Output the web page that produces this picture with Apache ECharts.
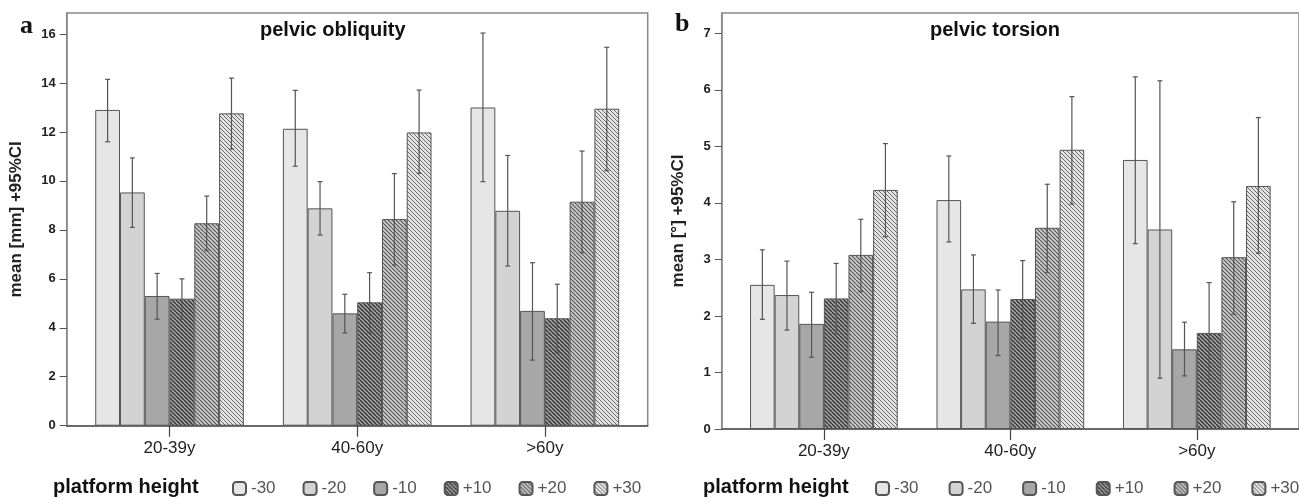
<!DOCTYPE html>
<html>
<head>
<meta charset="utf-8">
<script src="https://cdn.jsdelivr.net/npm/echarts@6/dist/echarts.min.js"></script>
<style>
  html, body { margin: 0; padding: 0; background: #fff; }
  #chart { width: 1299px; height: 498px; }
</style>
</head>
<body>
<div id="chart"></div>
<script>
const categories = ["20-39y", "40-60y", ">60y"];
const heights = ["-30", "-20", "-10", "+10", "+20", "+30"];
const obliquityTicks = [0, 2, 4, 6, 8, 10, 12, 14, 16];
const torsionTicks = [0, 1, 2, 3, 4, 5, 6, 7];

// one row per platform height, one value per age group
const obliquityMean = [
  [12.9, 12.13, 13.0],
  [9.53, 8.88, 8.78],
  [5.3, 4.59, 4.69],
  [5.19, 5.04, 4.39],
  [8.27, 8.44, 9.15],
  [12.76, 11.98, 12.95]
];
const obliquityLow = [
  [11.6, 10.6, 9.97],
  [8.1, 7.79, 6.52],
  [4.35, 3.79, 2.68],
  [4.35, 3.79, 2.98],
  [7.15, 6.56, 7.07],
  [11.3, 10.31, 10.42]
];
const obliquityHigh = [
  [14.15, 13.7, 16.04],
  [10.94, 9.97, 11.04],
  [6.22, 5.37, 6.66],
  [6.0, 6.25, 5.78],
  [9.38, 10.3, 11.22],
  [14.2, 13.71, 15.46]
];

const torsionMean = [
  [2.55, 4.05, 4.76],
  [2.37, 2.47, 3.53],
  [1.86, 1.9, 1.41],
  [2.31, 2.3, 1.7],
  [3.08, 3.56, 3.04],
  [4.23, 4.94, 4.3]
];
const torsionLow = [
  [1.94, 3.31, 3.28],
  [1.75, 1.87, 0.9],
  [1.27, 1.3, 0.94],
  [1.68, 1.6, 0.82],
  [2.43, 2.77, 2.03],
  [3.4, 3.98, 3.11]
];
const torsionHigh = [
  [3.17, 4.83, 6.23],
  [2.97, 3.08, 6.16],
  [2.42, 2.46, 1.89],
  [2.93, 2.98, 2.59],
  [3.71, 4.33, 4.02],
  [5.05, 5.88, 5.51]
];

const FONT = "'Liberation Sans', Arial, sans-serif";
const BAR_FRAC = 0.132;

function hatch(bg, fg, lw) {
  const c = document.createElement("canvas");
  c.width = 4;
  c.height = 4;
  const g = c.getContext("2d");
  g.fillStyle = bg;
  g.fillRect(0, 0, 4, 4);
  g.strokeStyle = fg;
  g.lineWidth = lw;
  g.beginPath();
  for (const k of [-4, 0, 4]) {
    g.moveTo(k, 0);
    g.lineTo(k + 4, 4);
  }
  g.stroke();
  return { image: c, repeat: "repeat" };
}

const fills = [
  "#e6e6e6",
  "#d3d3d3",
  "#a7a7a7",
  hatch("#a4a4a4", "#333", 1.3),
  hatch("#cacaca", "#555", 1.1),
  hatch("#e4e4e4", "#6a6a6a", 1)
];

function errRender(k) {
  return function (params, api) {
    const x = api.value(0);
    const lo = api.coord([x, api.value(1)]);
    const hi = api.coord([x, api.value(2)]);
    const w = api.size([1, 0])[0] * BAR_FRAC;
    const cx = lo[0] + (k - 2.5) * w;
    const cap = 2.5;
    const st = { stroke: "#555", lineWidth: 1.2 };
    return {
      type: "group",
      children: [
        { type: "line", shape: { x1: cx, y1: lo[1], x2: cx, y2: hi[1] }, style: st },
        { type: "line", shape: { x1: cx - cap, y1: hi[1], x2: cx + cap, y2: hi[1] }, style: st },
        { type: "line", shape: { x1: cx - cap, y1: lo[1], x2: cx + cap, y2: lo[1] }, style: st }
      ]
    };
  };
}

function makeSeries(g, mean, low, high) {
  const out = [];
  heights.forEach((h, k) => {
    out.push({
      type: "bar",
      name: h,
      xAxisIndex: g,
      yAxisIndex: g,
      barWidth: (BAR_FRAC * 100) + "%",
      barGap: "0%",
      data: mean[k].map((v, i) => [i, v]),
      itemStyle: { color: fills[k], borderColor: "#555", borderWidth: 1 },
      emphasis: { disabled: true }
    });
  });
  heights.forEach((h, k) => {
    out.push({
      type: "custom",
      xAxisIndex: g,
      yAxisIndex: g,
      z: 5,
      renderItem: errRender(k),
      data: low[k].map((v, i) => [i, v, high[k][i]])
    });
  });
  return out;
}

function xAxis(g) {
  return {
    type: "value",
    gridIndex: g,
    min: -0.548,
    max: 2.548,
    axisLine: { show: true, onZero: false, lineStyle: { color: "#555", width: 1.5 } },
    axisTick: { show: true, length: 11, customValues: [0, 1, 2], lineStyle: { color: "#444", width: 1.2 } },
    axisLabel: {
      customValues: [0, 1, 2],
      formatter: (v) => categories[Math.round(v)],
      margin: 14,
      color: "#222",
      fontSize: 17,
      fontFamily: FONT
    },
    splitLine: { show: false }
  };
}

function yAxis(g, max, ticks, name, gap) {
  return {
    type: "value",
    gridIndex: g,
    min: 0,
    max: max,
    name: name,
    nameLocation: "middle",
    nameRotate: 90,
    nameGap: gap,
    nameTextStyle: { fontSize: 17, fontWeight: "bold", color: "#222", fontFamily: FONT },
    axisLine: { show: true, onZero: false, lineStyle: { color: "#888", width: 1.5 } },
    axisTick: { show: true, length: 7, customValues: ticks, lineStyle: { color: "#555" } },
    axisLabel: {
      customValues: ticks,
      margin: 11,
      color: "#222",
      fontSize: 13,
      fontWeight: "bold",
      fontFamily: FONT
    },
    splitLine: { show: false }
  };
}

function legend(left, gap) {
  return {
    data: heights,
    left: left,
    top: 480,
    width: 470,
    padding: 0,
    orient: "horizontal",
    itemWidth: 13,
    itemHeight: 13,
    itemGap: gap,
    icon: "roundRect",
    selectedMode: false,
    textStyle: { fontSize: 17, color: "#555", fontFamily: FONT }
  };
}

const titleStyle = { fontSize: 20, fontWeight: "bold", color: "#111", fontFamily: FONT };
const letterStyle = { fontSize: 26, fontWeight: "bold", color: "#111", fontFamily: "'Liberation Serif', 'Times New Roman', serif" };

const chart = echarts.init(document.getElementById("chart"));
chart.setOption({
  animation: false,
  backgroundColor: "#fff",
  title: [
    { text: "pelvic obliquity", left: 260, top: 20, padding: 0, textStyle: titleStyle },
    { text: "pelvic torsion", left: 930, top: 20, padding: 0, textStyle: titleStyle },
    { text: "a", left: 20, top: 13, padding: 0, textStyle: letterStyle },
    { text: "b", left: 675, top: 11, padding: 0, textStyle: letterStyle },
    { text: "platform height", left: 53, top: 477, padding: 0, textStyle: titleStyle },
    { text: "platform height", left: 703, top: 477, padding: 0, textStyle: titleStyle }
  ],
  legend: [legend(232, 27), legend(875, 30)],
  grid: [
    { left: 66.7, top: 13, width: 581, height: 412.7, show: true, borderColor: "#888", borderWidth: 1.5 },
    { left: 721.7, top: 13, width: 587.3, height: 416, show: true, borderColor: "#888", borderWidth: 1.5 }
  ],
  xAxis: [xAxis(0), xAxis(1)],
  yAxis: [
    yAxis(0, 16.86, obliquityTicks, "mean [mm] +95%CI", 42),
    yAxis(1, 7.36, torsionTicks, "mean [°] +95%CI", 35)
  ],
  series: makeSeries(0, obliquityMean, obliquityLow, obliquityHigh)
    .concat(makeSeries(1, torsionMean, torsionLow, torsionHigh))
});
</script>
</body>
</html>
